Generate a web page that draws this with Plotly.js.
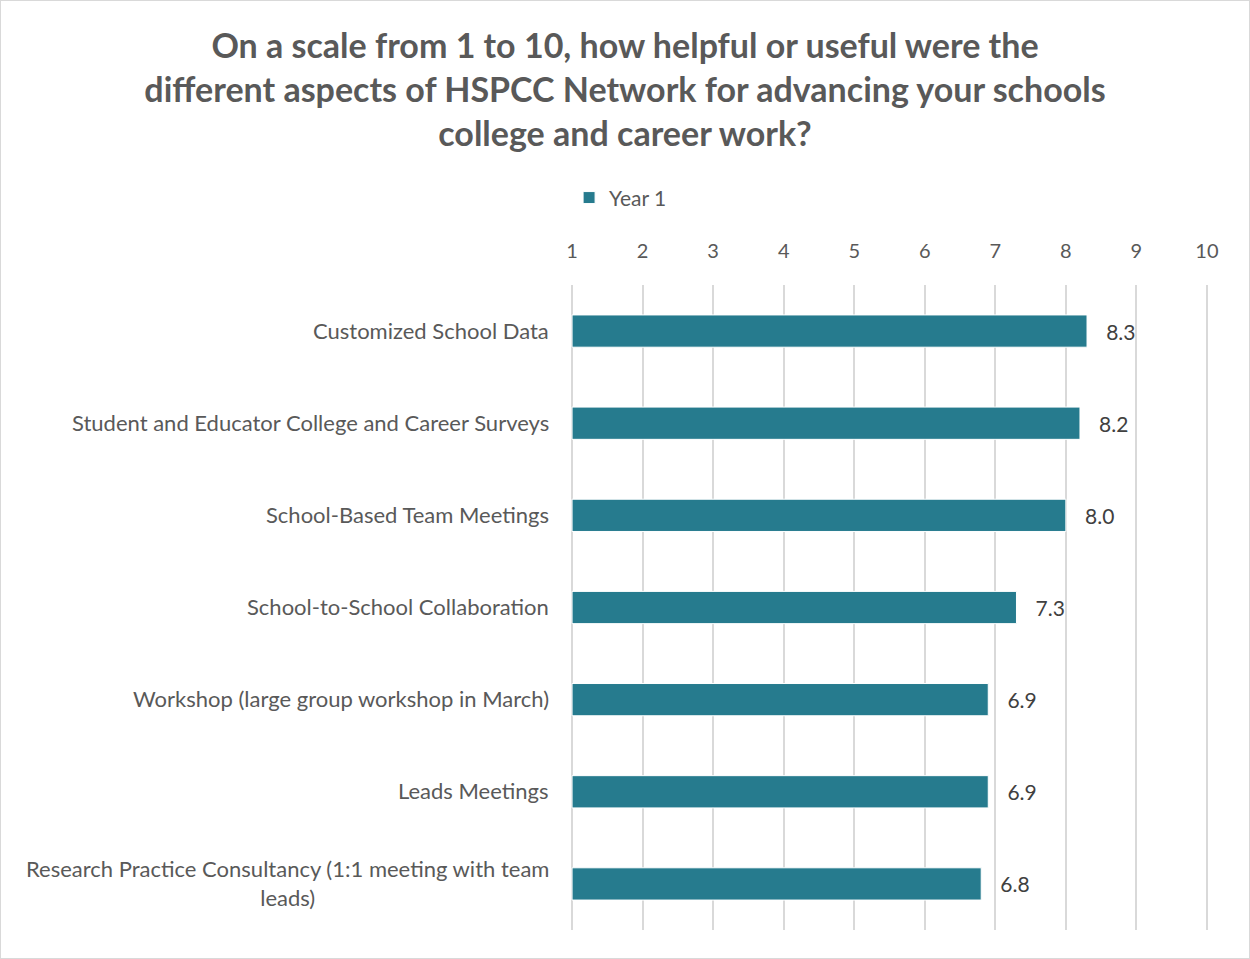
<!DOCTYPE html>
<html>
<head>
<meta charset="utf-8">
<script src="https://cdn.plot.ly/plotly-3.0.1.min.js"></script>
<style>
html,body{margin:0;padding:0;background:#fff;}
#chart{width:1248px;height:957px;border:1px solid #d9d9d9;}
</style>
</head>
<body>
<div id="chart"></div>
<script>
const categories = [
  "Customized School Data",
  "Student and Educator College and Career Surveys",
  "School-Based Team Meetings",
  "School-to-School Collaboration",
  "Workshop (large group workshop in March)",
  "Leads Meetings",
  "Research Practice Consultancy (1:1 meeting with team<br>leads)"
];
const year1 = [8.3, 8.2, 8.0, 7.3, 6.9, 6.9, 6.8];
const tickValues = [1,2,3,4,5,6,7,8,9,10];
const seriesName = "Year 1";
const titleText = "On a scale from 1 to 10, how helpful or useful were the<br>different aspects of HSPCC Network for advancing your schools<br>college and career work?";

const FONT = "Lato, 'Open Sans', sans-serif";
const TXT = "#595959";

const trace = {
  type: "bar",
  orientation: "h",
  name: seriesName,
  x: year1.map(v => v - 1),   // bar length measured from axis start (1)
  base: 1,
  y: categories,
  marker: {color: "#267B8E", line: {color: "#ffffff", width: 1}},
  text: year1.map(v => "\u00a0\u00a0\u00a0" + v.toFixed(1)),
  textposition: "outside",
  textfont: {family: FONT, size: 21, color: "#404040"},
  cliponaxis: false,
  hoverinfo: "none"
};

const annotations = categories.map(c => ({
  xref: "paper", yref: "y", x: 0, y: c, xanchor: "right", xshift: -20,
  yshift: 1,
  text: c, showarrow: false, align: "center",
  font: {family: FONT, size: 22, color: TXT}
}));

const layout = {
  width: 1248, height: 957,
  margin: {l: 570, r: 41, t: 284, b: 28},
  paper_bgcolor: "#ffffff", plot_bgcolor: "#ffffff",
  font: {family: FONT, color: TXT},
  title: {
    text: titleText,
    font: {family: FONT, size: 34, color: TXT, weight: "bold"},
    x: 0.5, xanchor: "center", y: 1 - 57/957, yanchor: "middle", yref: "container"
  },
  showlegend: true,
  legend: {
    orientation: "h", x: -0.003, xanchor: "left", y: 1.135, yanchor: "middle",
    font: {family: FONT, size: 21, color: TXT}
  },
  bargap: 0.65,
  xaxis: {
    side: "top", range: [0.985, 10.015], tickvals: tickValues, ticktext: tickValues.map(String),
    showgrid: true, gridcolor: "#d9d9d9", gridwidth: 2, zeroline: false, showline: false,
    ticks: "", ticklabelstandoff: 22,
    tickfont: {family: FONT, size: 20, color: TXT}, fixedrange: true
  },
  yaxis: {
    autorange: "reversed", showticklabels: false, ticks: "", showgrid: false,
    zeroline: false, showline: false, fixedrange: true
  },
  annotations: annotations
};

Plotly.newPlot("chart", [trace], layout, {displayModeBar: false, staticPlot: true});
</script>
</body>
</html>
